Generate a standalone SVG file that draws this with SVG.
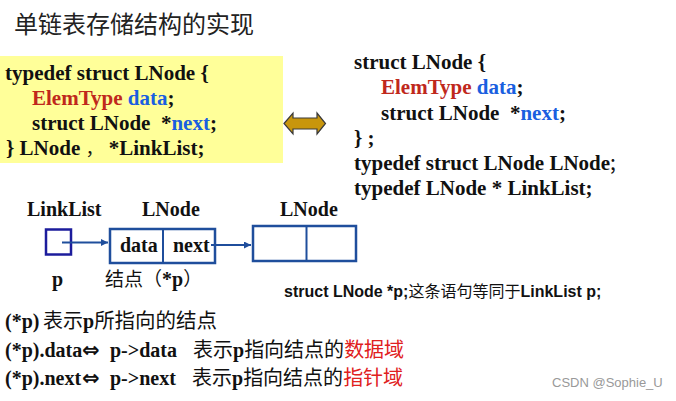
<svg xmlns="http://www.w3.org/2000/svg" width="676" height="401" viewBox="0 0 676 401">
<defs>
<style>
.code{font-family:"Liberation Serif","Noto Sans CJK SC",serif;font-weight:bold;font-size:21px;fill:#111;white-space:pre}
.red{fill:#c0281c}
.blue{fill:#1a5fe0}
.lbl{font-family:"Liberation Serif","Noto Sans CJK SC",serif;font-weight:bold;font-size:20px;fill:#111}
.cjk{font-family:"Noto Sans CJK SC",sans-serif;font-weight:normal}
.node{fill:#fff;stroke:#1f4e9c;stroke-width:2.5}
.conn{stroke:#1f4e9c;stroke-width:2;fill:none}
.line{font-family:"Liberation Serif","Noto Sans CJK SC",serif;font-size:20px;fill:#111;white-space:pre}
.b{font-weight:bold}
.eq{font-family:"DejaVu Sans",sans-serif;font-weight:bold;font-size:21px}
.hl{fill:#e02020}
</style>
<marker id="ah" viewBox="0 0 10 10" refX="10" refY="5" markerWidth="7" markerHeight="7" markerUnits="userSpaceOnUse" orient="auto">
<path d="M0,0 L10,5 L0,10 z" fill="#1f4e9c"/>
</marker>
</defs>
<rect width="676" height="401" fill="#fff"/>

<text x="14" y="33" font-family="Noto Sans CJK SC,sans-serif" font-size="24" fill="#222">单链表存储结构的实现</text>

<g id="code-left">
<rect x="0" y="56" width="283" height="107" fill="#ffff99"/>
<text class="code" x="5" y="80">typedef struct LNode {</text>
<text class="code" x="32" y="105"><tspan class="red">ElemType</tspan> <tspan class="blue">data</tspan>;</text>
<text class="code" x="32" y="130">struct LNode  *<tspan class="blue">next</tspan>;</text>
<text class="code" x="6" y="155">} LNode <tspan class="cjk" font-size="18">，</tspan> *LinkList;</text>
</g>

<g id="double-arrow">
<polygon points="284,123.5 293,113 293,118 317,118 317,113 325.5,123.5 317,134 317,129 293,129 293,134" fill="#c8960c" stroke="#3a3a3a" stroke-width="1.2"/>
</g>

<g id="code-right">
<text class="code" x="354" y="69">struct LNode {</text>
<text class="code" x="381" y="94"><tspan class="red">ElemType</tspan> <tspan class="blue">data</tspan>;</text>
<text class="code" x="381" y="120">struct LNode  *<tspan class="blue">next</tspan>;</text>
<text class="code" x="354" y="145">} ;</text>
<text class="code" x="354" y="170">typedef struct LNode LNode<tspan class="cjk">;</tspan></text>
<text class="code" x="354" y="195">typedef LNode * LinkList;</text>
</g>

<g id="node-p">
<text class="lbl" x="27" y="216">LinkList</text>
<rect x="46" y="229.5" width="25" height="25" fill="#fff" stroke="#1c1c9c" stroke-width="2.5"/>
<text class="lbl" x="52" y="286">p</text>
</g>

<g id="node-1">
<text class="lbl" x="142" y="216">LNode</text>
<rect class="node" x="110" y="229" width="105" height="34"/>
<line x1="163" y1="229" x2="163" y2="263" stroke="#1f4e9c" stroke-width="2"/>
<text class="lbl" x="120" y="252">data</text>
<text class="lbl" x="173" y="252">next</text>
<text class="lbl" x="105" y="286"><tspan class="cjk" font-size="19">结点（</tspan>*p<tspan class="cjk" font-size="19">）</tspan></text>
</g>

<g id="node-2">
<text class="lbl" x="280" y="216">LNode</text>
<rect class="node" x="253" y="226" width="103" height="35"/>
<line x1="306.5" y1="226" x2="306.5" y2="261" stroke="#1f4e9c" stroke-width="2"/>
</g>

<g id="connectors">
<line class="conn" x1="62" y1="242.5" x2="108" y2="242.5" marker-end="url(#ah)"/>
<line class="conn" x1="211" y1="245" x2="251" y2="245" marker-end="url(#ah)"/>
</g>

<text x="284" y="297" font-family="Liberation Sans,Noto Sans CJK SC,sans-serif" font-weight="bold" font-size="16" fill="#111">struct LNode *p;<tspan font-weight="normal">这条语句等同于</tspan>LinkList p;</text>

<g id="notes">
<text class="line" x="5" y="328"><tspan class="b">(*p)</tspan><tspan x="43" class="cjk">表示</tspan><tspan class="b">p</tspan><tspan class="cjk" font-size="20.5">所指向的结点</tspan></text>
<text class="line" x="5" y="357"><tspan class="b">(*p).data</tspan><tspan class="eq" x="82">⇔</tspan><tspan class="b" x="110">p-&gt;data</tspan><tspan x="193" class="cjk">表示</tspan><tspan class="b">p</tspan><tspan class="cjk">指向结点的</tspan><tspan class="cjk hl">数据域</tspan></text>
<text class="line" x="5" y="385"><tspan class="b">(*p).next</tspan><tspan class="eq" x="82">⇔</tspan><tspan class="b" x="110">p-&gt;next</tspan><tspan x="192" class="cjk">表示</tspan><tspan class="b">p</tspan><tspan class="cjk">指向结点的</tspan><tspan class="cjk hl">指针域</tspan></text>
</g>

<text x="552" y="387" font-family="Liberation Sans,sans-serif" font-size="13" fill="#999">CSDN @Sophie_U</text>
</svg>
